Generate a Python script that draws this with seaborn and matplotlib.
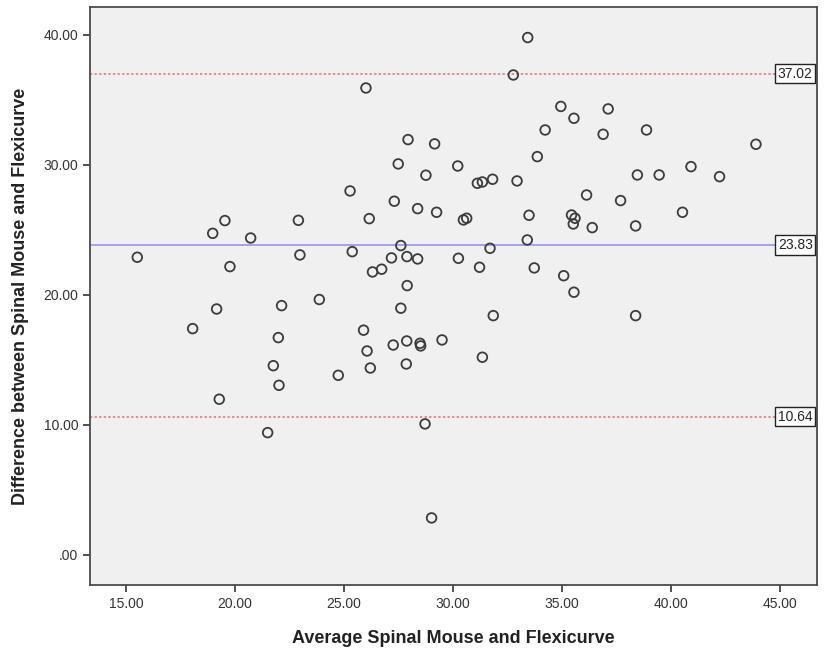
import matplotlib
matplotlib.use("Agg")
import matplotlib.pyplot as plt
import matplotlib.transforms as mtransforms
import pandas as pd
import seaborn as sns

# Bland-Altman data
avg_values = [
    15.52, 18.98, 19.54, 20.72, 19.77, 22.91, 22.98, 23.87, 33.43, 32.77,
    26.01, 34.95, 34.23, 27.94, 29.16, 33.87, 27.49, 30.22, 28.76, 25.28,
    31.12, 31.35, 31.82, 32.94, 27.31, 26.16, 28.38, 29.25, 30.48, 30.63,
    33.49, 33.41, 25.38, 27.61, 31.70, 27.18, 27.89, 28.38, 26.31, 26.73,
    30.25, 31.22, 33.73, 35.08, 27.90, 37.12, 35.55, 36.89, 38.88, 43.90,
    40.92, 38.46, 39.46, 42.23, 36.13, 37.69, 40.53, 35.44, 35.60, 35.52,
    36.39, 38.38, 35.55, 19.16, 22.14, 18.06, 21.99, 21.76, 22.02, 19.28,
    21.50, 27.61, 31.85, 25.90, 26.06, 27.26, 27.88, 28.49, 28.52, 29.50,
    26.21, 27.86, 31.35, 24.74, 28.72, 29.02, 38.38,
]
diff_values = [
    22.90, 24.74, 25.72, 24.38, 22.18, 25.74, 23.08, 19.65, 39.80, 36.92,
    35.92, 34.50, 32.69, 31.95, 31.62, 30.64, 30.08, 29.92, 29.21, 28.00,
    28.59, 28.69, 28.90, 28.77, 27.21, 25.87, 26.64, 26.36, 25.77, 25.90,
    26.13, 24.23, 23.33, 23.80, 23.59, 22.85, 22.95, 22.77, 21.77, 21.98,
    22.82, 22.13, 22.08, 21.48, 20.72, 34.31, 33.59, 32.36, 32.69, 31.59,
    29.87, 29.23, 29.23, 29.10, 27.69, 27.26, 26.36, 26.15, 25.90, 25.46,
    25.18, 25.31, 20.21, 18.92, 19.18, 17.41, 16.72, 14.56, 13.05, 11.98,
    9.41, 18.98, 18.41, 17.29, 15.69, 16.15, 16.46, 16.28, 16.08, 16.54,
    14.38, 14.69, 15.21, 13.82, 10.08, 2.85, 18.41,
]
mean_diff = 23.83
upper_loa = 37.02
lower_loa = 10.64

x_ticks = [15, 20, 25, 30, 35, 40, 45]
y_ticks = [0, 10, 20, 30, 40]


def fmt_tick(v):
    return ".00" if v == 0 else f"{v:.2f}"


def main():
    sns.set_theme(style="ticks")
    plt.rcParams['font.family'] = ['Liberation Sans', 'DejaVu Sans']

    df = pd.DataFrame({'avg': avg_values, 'diff': diff_values})

    fig = plt.figure(figsize=(8.27, 6.59), dpi=100)
    ax = fig.add_axes([0.1088, 0.1123, 0.8791, 0.8771])
    ax.set_facecolor('#f0f0f0')

    sns.scatterplot(data=df, x='avg', y='diff', ax=ax, marker='o', s=48,
                    facecolor='none', edgecolor='#3c3c3c', linewidth=1.3, zorder=3)

    ax.axhline(mean_diff, color='#8c8cf0', linewidth=1.1, zorder=2)
    ax.axhline(upper_loa, color='#ee6a6a', linewidth=1.1, linestyle=(0, (1.5, 1.5)), zorder=2)
    ax.axhline(lower_loa, color='#ee6a6a', linewidth=1.1, linestyle=(0, (1.5, 1.5)), zorder=2)

    # value labels boxed against the right frame
    trans = mtransforms.blended_transform_factory(ax.transAxes, ax.transData)
    for val in [upper_loa, mean_diff, lower_loa]:
        ax.text(0.994, val, f"{val:.2f}", transform=trans, ha='right', va='center',
                fontsize=10, color='#222222', zorder=5, clip_on=False,
                bbox=dict(boxstyle='square,pad=0.2', facecolor='white',
                          edgecolor='#222222', linewidth=1.0))

    ax.set_xlim(13.35, 46.7)
    ax.set_ylim(-2.31, 42.15)
    ax.set_xticks(x_ticks)
    ax.set_xticklabels([fmt_tick(v) for v in x_ticks])
    ax.set_yticks(y_ticks)
    ax.set_yticklabels([fmt_tick(v) for v in y_ticks])
    ax.tick_params(axis='both', direction='out', length=5, width=1.2,
                   colors='#333333', labelsize=10, labelcolor='#333333')

    for spine in ax.spines.values():
        spine.set_visible(True)
        spine.set_color('#4a4a4a')
        spine.set_linewidth(1.3)

    ax.set_xlabel('Average Spinal Mouse and Flexicurve', fontsize=13,
                  fontweight='bold', color='#222222', labelpad=14)
    ax.set_ylabel('Difference between Spinal Mouse and Flexicurve', fontsize=13,
                  fontweight='bold', color='#222222', labelpad=10)

    fig.savefig('out.png', dpi=100, facecolor='white')
    plt.close(fig)


if __name__ == '__main__':
    main()
